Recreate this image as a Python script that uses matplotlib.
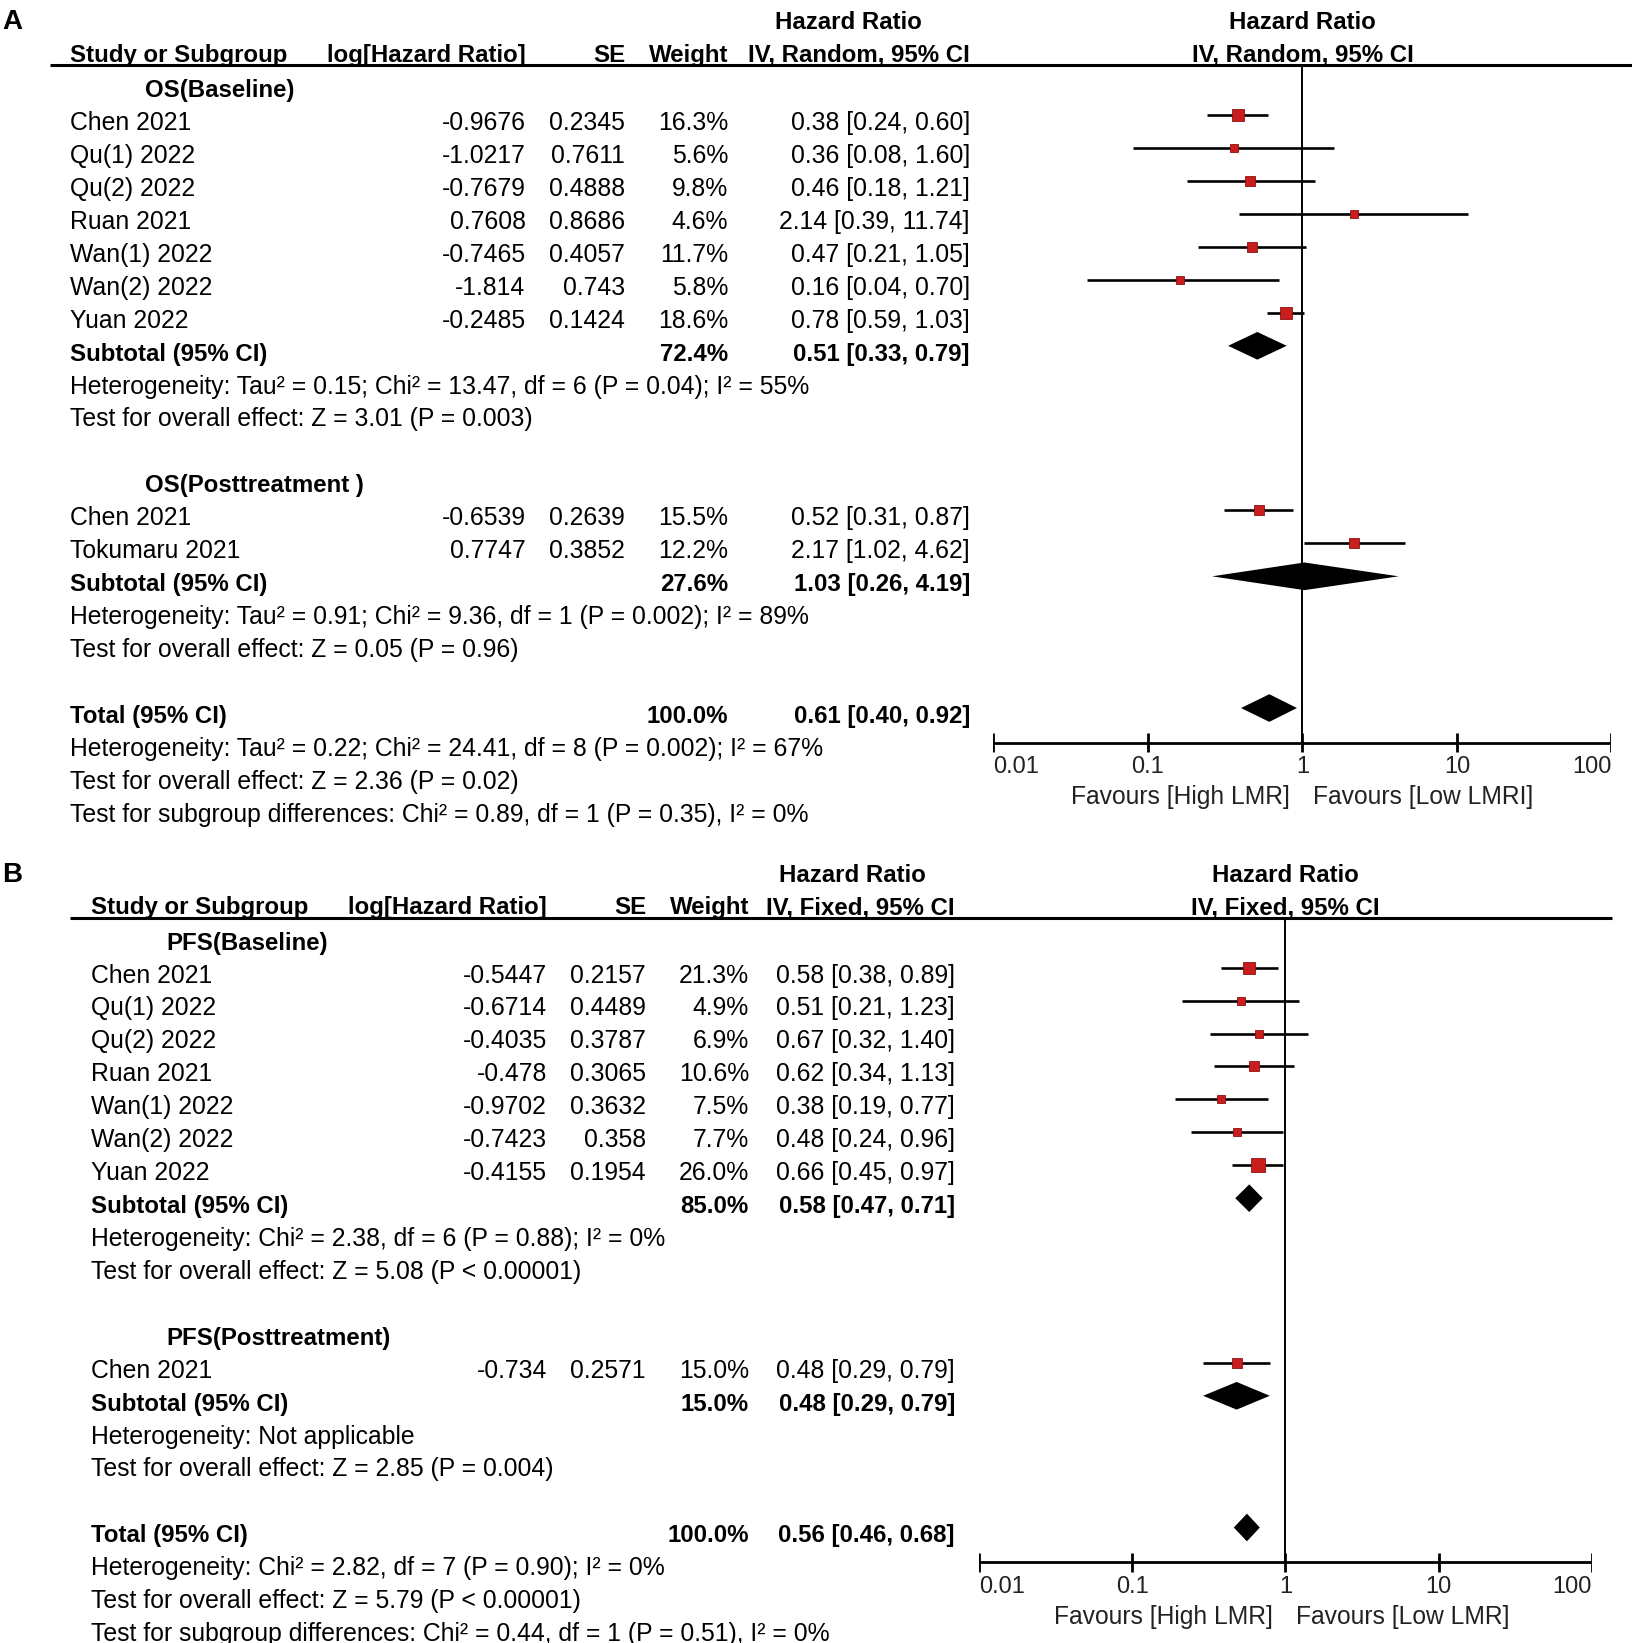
import numpy as np
import matplotlib
matplotlib.use('Agg')
import matplotlib.pyplot as plt

plt.rcParams['font.family'] = ['Liberation Sans', 'DejaVu Sans']

# ---------------- panel A : OS, random effects ----------------
a_base_names = ['Chen 2021', 'Qu(1) 2022', 'Qu(2) 2022', 'Ruan 2021',
                'Wan(1) 2022', 'Wan(2) 2022', 'Yuan 2022']
a_base_loghr = [-0.9676, -1.0217, -0.7679, 0.7608, -0.7465, -1.814, -0.2485]
a_base_se = [0.2345, 0.7611, 0.4888, 0.8686, 0.4057, 0.743, 0.1424]
a_base_weight = [16.3, 5.6, 9.8, 4.6, 11.7, 5.8, 18.6]
a_base_hr = [0.38, 0.36, 0.46, 2.14, 0.47, 0.16, 0.78]
a_base_lo = [0.24, 0.08, 0.18, 0.39, 0.21, 0.04, 0.59]
a_base_hi = [0.60, 1.60, 1.21, 11.74, 1.05, 0.70, 1.03]
a_base_sub = [72.4, 0.51, 0.33, 0.79]
a_base_het = 'Heterogeneity: Tau\u00b2 = 0.15; Chi\u00b2 = 13.47, df = 6 (P = 0.04); I\u00b2 = 55%'
a_base_test = 'Test for overall effect: Z = 3.01 (P = 0.003)'

a_post_names = ['Chen 2021', 'Tokumaru 2021']
a_post_loghr = [-0.6539, 0.7747]
a_post_se = [0.2639, 0.3852]
a_post_weight = [15.5, 12.2]
a_post_hr = [0.52, 2.17]
a_post_lo = [0.31, 1.02]
a_post_hi = [0.87, 4.62]
a_post_sub = [27.6, 1.03, 0.26, 4.19]
a_post_het = 'Heterogeneity: Tau\u00b2 = 0.91; Chi\u00b2 = 9.36, df = 1 (P = 0.002); I\u00b2 = 89%'
a_post_test = 'Test for overall effect: Z = 0.05 (P = 0.96)'

a_total = [100.0, 0.61, 0.40, 0.92]
a_footer = ['Heterogeneity: Tau\u00b2 = 0.22; Chi\u00b2 = 24.41, df = 8 (P = 0.002); I\u00b2 = 67%',
            'Test for overall effect: Z = 2.36 (P = 0.02)',
            'Test for subgroup differences: Chi\u00b2 = 0.89, df = 1 (P = 0.35), I\u00b2 = 0%']

# ---------------- panel B : PFS, fixed effect ----------------
b_base_names = ['Chen 2021', 'Qu(1) 2022', 'Qu(2) 2022', 'Ruan 2021',
                'Wan(1) 2022', 'Wan(2) 2022', 'Yuan 2022']
b_base_loghr = [-0.5447, -0.6714, -0.4035, -0.478, -0.9702, -0.7423, -0.4155]
b_base_se = [0.2157, 0.4489, 0.3787, 0.3065, 0.3632, 0.358, 0.1954]
b_base_weight = [21.3, 4.9, 6.9, 10.6, 7.5, 7.7, 26.0]
b_base_hr = [0.58, 0.51, 0.67, 0.62, 0.38, 0.48, 0.66]
b_base_lo = [0.38, 0.21, 0.32, 0.34, 0.19, 0.24, 0.45]
b_base_hi = [0.89, 1.23, 1.40, 1.13, 0.77, 0.96, 0.97]
b_base_sub = [85.0, 0.58, 0.47, 0.71]
b_base_het = 'Heterogeneity: Chi\u00b2 = 2.38, df = 6 (P = 0.88); I\u00b2 = 0%'
b_base_test = 'Test for overall effect: Z = 5.08 (P < 0.00001)'

b_post_names = ['Chen 2021']
b_post_loghr = [-0.734]
b_post_se = [0.2571]
b_post_weight = [15.0]
b_post_hr = [0.48]
b_post_lo = [0.29]
b_post_hi = [0.79]
b_post_sub = [15.0, 0.48, 0.29, 0.79]
b_post_het = 'Heterogeneity: Not applicable'
b_post_test = 'Test for overall effect: Z = 2.85 (P = 0.004)'

b_total = [100.0, 0.56, 0.46, 0.68]
b_footer = ['Heterogeneity: Chi\u00b2 = 2.82, df = 7 (P = 0.90); I\u00b2 = 0%',
            'Test for overall effect: Z = 5.79 (P < 0.00001)',
            'Test for subgroup differences: Chi\u00b2 = 0.44, df = 1 (P = 0.51), I\u00b2 = 0%']

tick_vals = [0.01, 0.1, 1, 10, 100]
tick_text = ['0.01', '0.1', '1', '10', '100']

# =================================================================
W, H = 1633, 1643
PITCH = 32.93          # pixels per table row
BL = 0.45              # text baseline offset below the marker centre
FS, FSB = 17.8, 17.3
RED, DKRED = '#c81e1e', '#8c1010'

fig = plt.figure(figsize=(W / 100, H / 100), dpi=100)
fig.patch.set_facecolor('white')


def add_panel(top_px, bot_px, row0_px, x_lo_px, x_hi_px):
    r_top = (top_px - row0_px) / PITCH
    r_bot = (bot_px - row0_px) / PITCH
    y = (H - bot_px) / H
    h = (bot_px - top_px) / H
    tab = fig.add_axes([0, y, 1, h])
    tab.set_xlim(0, W)
    tab.set_ylim(r_bot, r_top)
    tab.axis('off')
    fp = fig.add_axes([x_lo_px / W, y, (x_hi_px - x_lo_px) / W, h])
    fp.set_xscale('log')
    fp.set_xlim(0.01, 100)
    fp.set_ylim(r_bot, r_top)
    fp.axis('off')
    return tab, fp


def txt(ax, x, y, s, bold=False, **kw):
    ax.text(x, y, s, fontsize=FSB if bold else FS,
            fontweight='bold' if bold else 'normal',
            va='baseline', color='black', **kw)


def diamond(fp, row, hr, lo, hi):
    fp.fill([lo, hr, hi, hr], [row, row - 0.42, row, row + 0.42],
            color='black', lw=0, zorder=4)


def ci_text(hr, lo, hi):
    return f'{hr:.2f} [{lo:.2f}, {hi:.2f}]'


def draw_panel(tab, fp, c, letter, method, groups, total, footer, fav):
    # header
    tab.text(2, -2.61, letter, fontsize=20, fontweight='bold', va='baseline')
    txt(tab, c['hr_c'], -2.61, 'Hazard Ratio', bold=True, ha='center')
    txt(fp, 1, -2.61, 'Hazard Ratio', bold=True, ha='center')
    txt(tab, c['name'], -1.63, 'Study or Subgroup', bold=True)
    txt(tab, c['lhr'], -1.63, 'log[Hazard Ratio]', bold=True, ha='right')
    txt(tab, c['se'], -1.63, 'SE', bold=True, ha='right')
    txt(tab, c['w'], -1.63, 'Weight', bold=True, ha='right')
    txt(tab, c['ci'], -1.63, method, bold=True, ha='right')
    txt(fp, 1, -1.63, method, bold=True, ha='center')
    tab.plot(c['rule'], [-1.52, -1.52], color='black', lw=2.2,
             solid_capstyle='butt')

    row = -1
    for g in groups:
        txt(tab, c['group'], row + BL, g['label'], bold=True)
        row += 1
        for i, name in enumerate(g['names']):
            w = g['weight'][i]
            txt(tab, c['name'], row + BL, name)
            txt(tab, c['lhr'], row + BL, str(g['loghr'][i]), ha='right')
            txt(tab, c['se'], row + BL, str(g['se'][i]), ha='right')
            txt(tab, c['w'], row + BL, f'{w:.1f}%', ha='right')
            txt(tab, c['ci'], row + BL,
                ci_text(g['hr'][i], g['lo'][i], g['hi'][i]), ha='right')
            fp.plot([g['lo'][i], g['hi'][i]], [row, row], color='black',
                    lw=1.9, solid_capstyle='butt', zorder=2)
            side = 3 + 2 * np.sqrt(w)
            fp.plot(g['hr'][i], row, marker='s', ms=side * 0.72, mfc=RED,
                    mec=DKRED, mew=0.6, zorder=3)
            row += 1
        sw, shr, slo, shi = g['sub']
        txt(tab, c['name'], row + BL, 'Subtotal (95% CI)', bold=True)
        txt(tab, c['w'], row + BL, f'{sw:.1f}%', bold=True, ha='right')
        txt(tab, c['ci'], row + BL, ci_text(shr, slo, shi), bold=True, ha='right')
        diamond(fp, row, shr, slo, shi)
        row += 1
        txt(tab, c['name'], row + BL, g['het'])
        row += 1
        txt(tab, c['name'], row + BL, g['test'])
        row += 2

    tw, thr, tlo, thi = total
    txt(tab, c['name'], row + BL, 'Total (95% CI)', bold=True)
    txt(tab, c['w'], row + BL, f'{tw:.1f}%', bold=True, ha='right')
    txt(tab, c['ci'], row + BL, ci_text(thr, tlo, thi), bold=True, ha='right')
    diamond(fp, row, thr, tlo, thi)
    axis_row = row + 1.05
    for line in footer:
        row += 1
        txt(tab, c['name'], row + BL, line)

    # line of no effect and the log axis
    fp.plot([1, 1], [-1.52, axis_row], color='black', lw=1.4, zorder=1)
    fp.plot([tick_vals[0], tick_vals[-1]], [axis_row, axis_row],
            color='black', lw=2.0, solid_capstyle='butt')
    fp.vlines(tick_vals, axis_row - 0.29, axis_row + 0.29, color='black', lw=2.0)
    for k, (v, s) in enumerate(zip(tick_vals, tick_text)):
        ha = 'left' if k == 0 else ('right' if k == len(tick_vals) - 1 else 'center')
        fp.text(v, axis_row + 0.93, s, ha=ha, va='baseline', fontsize=17,
                color='#222222')
    fp.annotate(fav[0], xy=(1, axis_row + 1.87), xytext=(-13, 0),
                textcoords='offset pixels', ha='right', va='baseline',
                fontsize=17.7, color='#222222')
    fp.annotate(fav[1], xy=(1, axis_row + 1.87), xytext=(11, 0),
                textcoords='offset pixels', ha='left', va='baseline',
                fontsize=17.7, color='#222222')


groups_a = [
    dict(label='OS(Baseline)', names=a_base_names, loghr=a_base_loghr, se=a_base_se,
         weight=a_base_weight, hr=a_base_hr, lo=a_base_lo, hi=a_base_hi,
         sub=a_base_sub, het=a_base_het, test=a_base_test),
    dict(label='OS(Posttreatment )', names=a_post_names, loghr=a_post_loghr, se=a_post_se,
         weight=a_post_weight, hr=a_post_hr, lo=a_post_lo, hi=a_post_hi,
         sub=a_post_sub, het=a_post_het, test=a_post_test),
]
groups_b = [
    dict(label='PFS(Baseline)', names=b_base_names, loghr=b_base_loghr, se=b_base_se,
         weight=b_base_weight, hr=b_base_hr, lo=b_base_lo, hi=b_base_hi,
         sub=b_base_sub, het=b_base_het, test=b_base_test),
    dict(label='PFS(Posttreatment)', names=b_post_names, loghr=b_post_loghr, se=b_post_se,
         weight=b_post_weight, hr=b_post_hr, lo=b_post_lo, hi=b_post_hi,
         sub=b_post_sub, het=b_post_het, test=b_post_test),
]

cols_a = dict(name=70, group=145, lhr=525.6, se=625, w=728, ci=970, hr_c=848,
              rule=[50, W])
cols_b = dict(name=91, group=166, lhr=547, se=646, w=749, ci=955, hr_c=852,
              rule=[70, 1612])

tab_a, fp_a = add_panel(0, 822, 115.3, 993.5, 1611.5)
draw_panel(tab_a, fp_a, cols_a, 'A', 'IV, Random, 95% CI', groups_a, a_total,
           a_footer, ['Favours [High LMR]', 'Favours [Low LMRI]'])

tab_b, fp_b = add_panel(822, H, 967.7, 979, 1592)
draw_panel(tab_b, fp_b, cols_b, 'B', 'IV, Fixed, 95% CI', groups_b, b_total,
           b_footer, ['Favours [High LMR]', 'Favours [Low LMR]'])

plt.savefig('out.png', dpi=100, facecolor='white')
